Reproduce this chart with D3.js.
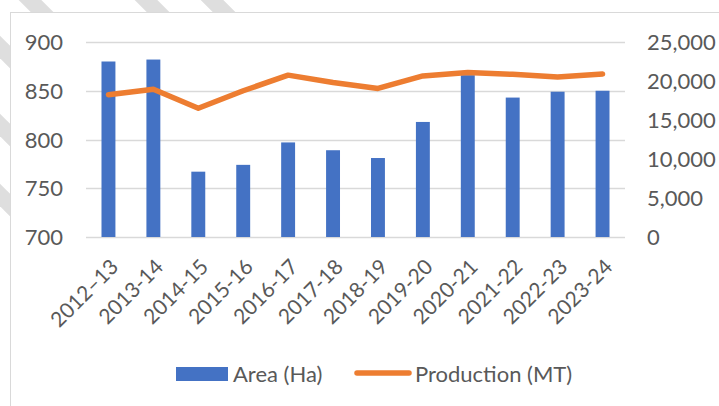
<!DOCTYPE html>
<html lang="en">
<head>
<meta charset="UTF-8">
<title>Area and Production</title>
<script src="https://cdn.jsdelivr.net/npm/d3@7/dist/d3.min.js"></script>
<style>
  body { margin: 0; background: #fff; }
  text { font-family: Lato, "Open Sans", sans-serif; fill: #595959; }
</style>
</head>
<body>
<div id="app"></div>
<script>
var years = ["2012\u201313", "2013-14", "2014-15", "2015-16", "2016-17", "2017-18",
             "2018-19", "2019-20", "2020-21", "2021-22", "2022-23", "2023-24"];
var area = [880, 882, 767, 774, 797, 789, 781, 818, 866, 843, 849, 850];
var production = [18250, 18950, 16500, 18750, 20750, 19800, 19050, 20650, 21100, 20850, 20500, 20900];
var areaTicks = [700, 750, 800, 850, 900];
var prodTicks = [0, 5000, 10000, 15000, 20000, 25000];

var width = 719, height = 406;
var margin = { left: 86, right: 94, top: 42, bottom: 169 };

var svg = d3.select("#app").append("svg")
    .attr("width", width)
    .attr("height", height);

// grey watermark stripes peeking out round the chart box
var stripes = [[10, -20], [126, -20], [192, -20], [-40, 7], [-40, 85], [-40, 155]];
svg.selectAll(".stripe").data(stripes).enter().append("line")
    .attr("x1", function (d) { return d[0]; })
    .attr("y1", function (d) { return d[1]; })
    .attr("x2", function (d) { return d[0] + 70; })
    .attr("y2", function (d) { return d[1] + 70; })
    .attr("stroke", "#dedede")
    .attr("stroke-width", 16);

// chart box
svg.append("rect")
    .attr("x", 10.5).attr("y", 12.5)
    .attr("width", 720).attr("height", 400)
    .attr("fill", "#fff")
    .attr("stroke", "#d9d9d9");

var x = d3.scaleBand()
    .domain(years)
    .range([margin.left, width - margin.right])
    .paddingInner(0.69)
    .paddingOuter(0.345);

var y = d3.scaleLinear().domain([700, 900]).range([height - margin.bottom, margin.top]);
var y2 = d3.scaleLinear().domain([0, 25000]).range([height - margin.bottom, margin.top]);

// gridlines
svg.append("g").selectAll("line").data(areaTicks).enter().append("line")
    .attr("x1", margin.left).attr("x2", width - margin.right)
    .attr("y1", function (d) { return Math.round(y(d)) + 0.5; })
    .attr("y2", function (d) { return Math.round(y(d)) + 0.5; })
    .attr("stroke", "#d9d9d9")
    .attr("stroke-width", 1.5);

// left axis
var left = svg.append("g")
    .attr("transform", "translate(" + (margin.left - 23) + ",0)")
    .call(d3.axisLeft(y).tickValues(areaTicks).tickSize(0).tickPadding(0));
left.select(".domain").remove();
left.selectAll("text").style("font-size", "22px").attr("dy", "0.35em");

// right axis
var right = svg.append("g")
    .attr("transform", "translate(" + (width - margin.right + 22) + ",0)")
    .call(d3.axisRight(y2).tickValues(prodTicks).tickSize(0).tickPadding(0)
        .tickFormat(d3.format(",")));
right.select(".domain").remove();
right.selectAll("text").style("font-size", "22px").attr("dy", "0.35em");

// bars
svg.append("g").selectAll("rect").data(area).enter().append("rect")
    .attr("x", function (d, i) { return x(years[i]); })
    .attr("width", x.bandwidth())
    .attr("y", function (d) { return y(d); })
    .attr("height", function (d) { return y(700) - y(d); })
    .attr("fill", "#4472c4");

// production line
var line = d3.line()
    .x(function (d, i) { return x(years[i]) + x.bandwidth() / 2; })
    .y(function (d) { return y2(d); });
svg.append("path")
    .datum(production)
    .attr("d", line)
    .attr("fill", "none")
    .attr("stroke", "#ed7d31")
    .attr("stroke-width", 5.5)
    .attr("stroke-linejoin", "round")
    .attr("stroke-linecap", "round");

// x labels
svg.append("g").selectAll("text").data(years).enter().append("text")
    .attr("transform", function (d) {
        return "translate(" + (x(d) + x.bandwidth() / 2 + 6) + "," + (y(700) + 26) + ") rotate(-45)";
    })
    .attr("text-anchor", "end")
    .attr("dy", "0.35em")
    .style("font-size", "21px")
    .text(function (d) { return d; });

// legend
var leg = svg.append("g");
leg.append("rect").attr("x", 176).attr("y", 367).attr("width", 52).attr("height", 14).attr("fill", "#4472c4");
leg.append("text").attr("x", 233).attr("y", 374).attr("dy", "0.35em").style("font-size", "22px").text("Area (Ha)");
leg.append("line").attr("x1", 357).attr("x2", 409).attr("y1", 373).attr("y2", 373)
    .attr("stroke", "#ed7d31").attr("stroke-width", 5.5).attr("stroke-linecap", "round");
leg.append("text").attr("x", 415).attr("y", 374).attr("dy", "0.35em").style("font-size", "22px").text("Production (MT)");
</script>
</body>
</html>
